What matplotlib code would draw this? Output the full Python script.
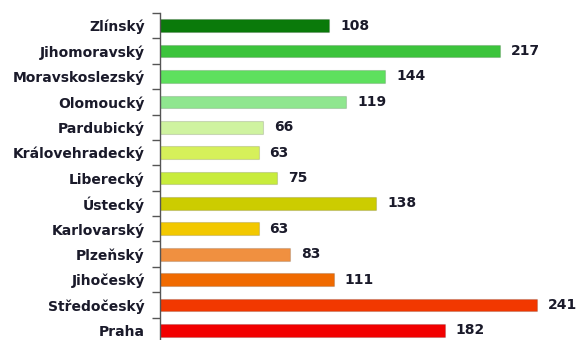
import matplotlib
matplotlib.use("Agg")
import matplotlib.pyplot as plt
import numpy as np

kraje = ['Zlínský', 'Jihomoravský', 'Moravskoslezský', 'Olomoucký', 'Pardubický',
         'Královehradecký', 'Liberecký', 'Ústecký', 'Karlovarský', 'Plzeňský',
         'Jihočeský', 'Středočeský', 'Praha']
hodnoty = [108, 217, 144, 119, 66, 63, 75, 138, 63, 83, 111, 241, 182]
barvy = ['#0a7a0a', '#3cc43c', '#5ee05e', '#8fe68f', '#cff3a0', '#d6f05a', '#c8ec3c',
         '#cccc00', '#f2c800', '#f09040', '#f06a00', '#f23800', '#f20000']

fig = plt.figure(figsize=(5.78, 3.4), dpi=100)
ax = fig.add_axes([160/578, 1 - 343/340, 1 - 160/578, 330/340])

y = np.arange(len(kraje))
ax.barh(y, hodnoty, height=0.5, color=barvy, edgecolor='#00000022', linewidth=0.8)
for yi, v in zip(y, hodnoty):
    ax.text(v + 7, yi, str(v), va='center', ha='left', fontsize=10,
            fontweight='bold', color='#1a1a2a')

ax.set_xlim(0, 267)
ax.set_ylim(len(kraje) - 0.5, -0.5)
ax.set_yticks(y)
ax.set_yticklabels(kraje, fontsize=10, fontweight='bold', color='#1a1a2a')
ax.tick_params(axis='y', which='major', length=0, pad=11)
ax.set_yticks(np.arange(len(kraje) + 1) - 0.5, minor=True)
ax.tick_params(axis='y', which='minor', length=6, width=1, color='#555555')
ax.set_xticks([])
for s in ['top', 'right', 'bottom']:
    ax.spines[s].set_visible(False)
ax.spines['left'].set_color('#555555')
ax.spines['left'].set_linewidth(1)

plt.savefig('out.png', dpi=100)
